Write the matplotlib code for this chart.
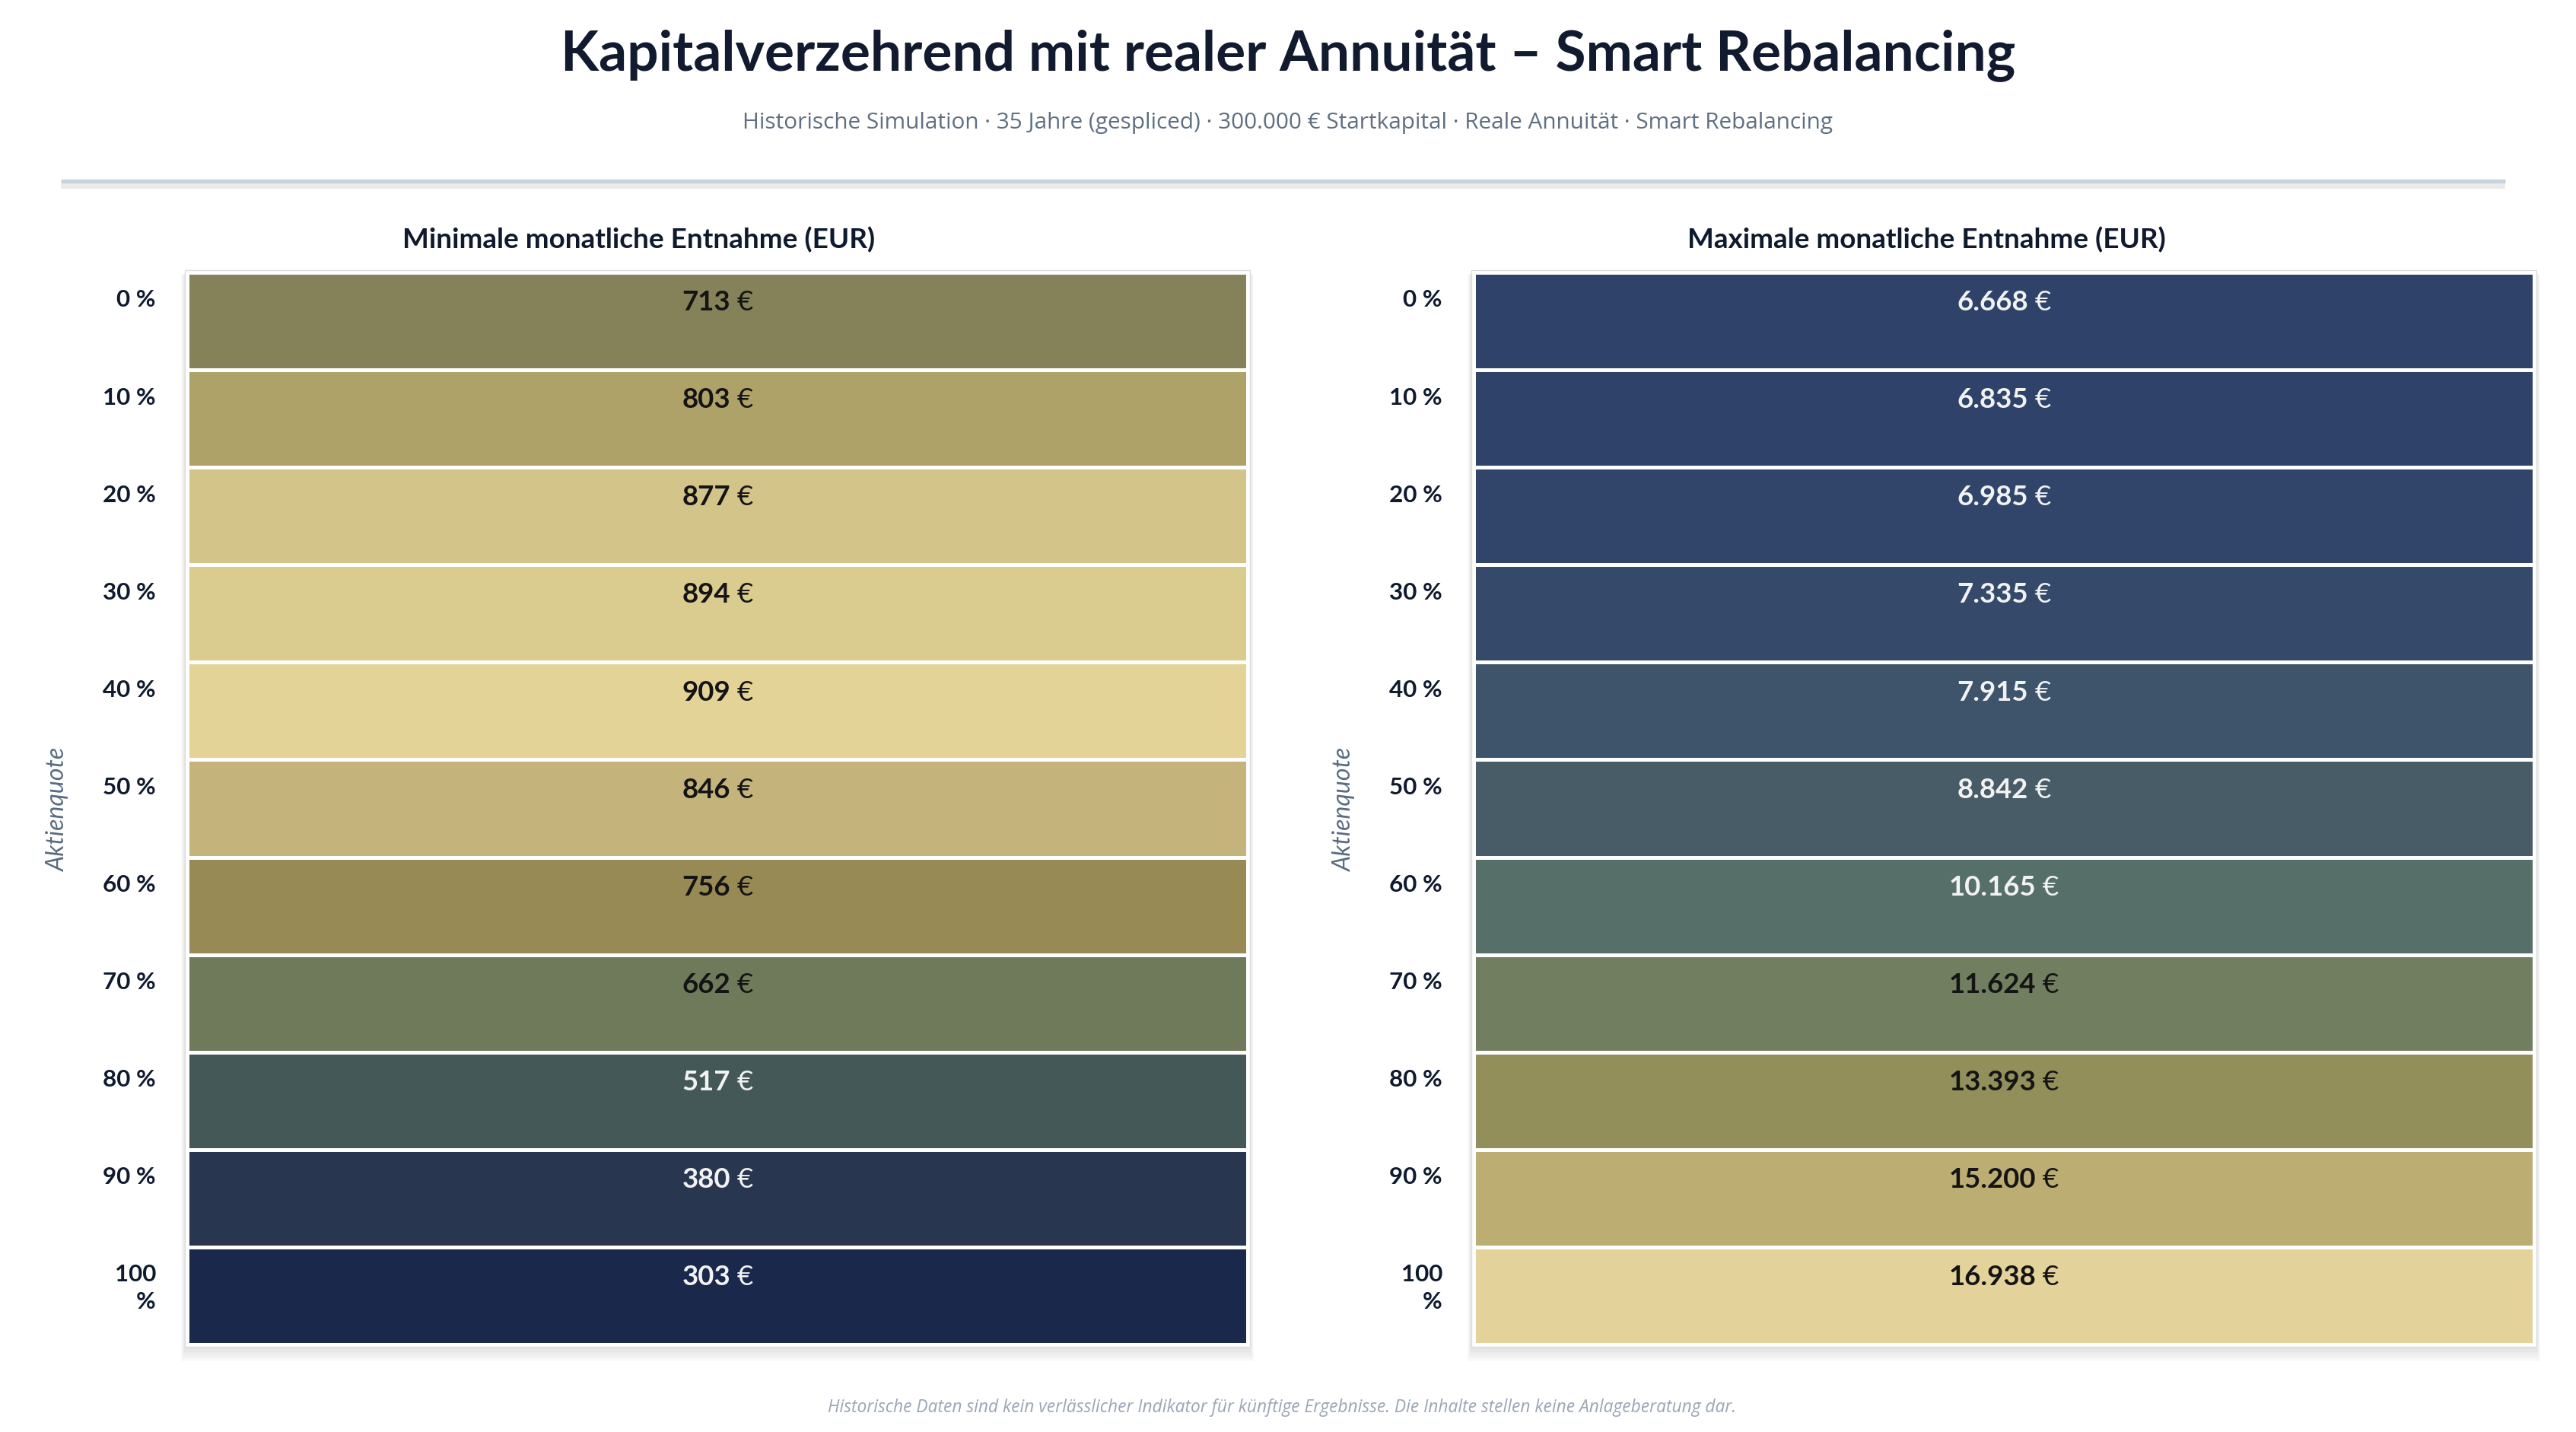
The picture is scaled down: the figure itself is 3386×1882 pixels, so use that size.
import numpy as np
import matplotlib
matplotlib.use("Agg")
import matplotlib.pyplot as plt
import matplotlib.patheffects as pe
import matplotlib.transforms as mtransforms
from matplotlib.colors import LinearSegmentedColormap, Normalize
from matplotlib.offsetbox import TextArea, HPacker, AnnotationBbox
from matplotlib.patches import Rectangle

plt.rcParams["font.family"] = ["Lato", "DejaVu Sans"]

# Daten
quoten = ["0 %", "10 %", "20 %", "30 %", "40 %", "50 %", "60 %", "70 %", "80 %", "90 %", "100\n%"]
min_entnahme = [713, 803, 877, 894, 909, 846, 756, 662, 517, 380, 303]
max_entnahme = [6668, 6835, 6985, 7335, 7915, 8842, 10165, 11624, 13393, 15200, 16938]

# Farben je Zeile
min_farben = ["#858259", "#aea167", "#d3c589", "#dacb8e", "#e3d397", "#c3b37b",
              "#978a54", "#6e7a59", "#435857", "#28374f", "#1a294b"]
max_farben = ["#2f426a", "#2f436a", "#31456b", "#35496b", "#3d546b", "#475c66",
              "#566f69", "#717f60", "#928f5a", "#bcad72", "#e3d299"]

W, H = 3386, 1882
fig = plt.figure(figsize=(W / 200, H / 200), dpi=200)
fig.patch.set_facecolor("white")


def px(x, y):
    return x / W, 1 - y / H


def make_cmap(values, colors):
    vmin, vmax = min(values), max(values)
    pairs = sorted(((v - vmin) / (vmax - vmin), c) for v, c in zip(values, colors))
    return LinearSegmentedColormap.from_list("c", pairs), Normalize(vmin, vmax)


def panel(left_px, values, colors, title, title_x):
    x0, y1 = px(left_px, 358)
    x1, y0 = px(left_px + 1394, 1767)
    # Schatten
    for i in range(7):
        d = (i + 1) * 2.0
        fig.patches.append(Rectangle(((left_px - d * 0.6) / W, 1 - (1767 + d * 1.6) / H),
                                     (1394 + d * 1.2) / W, (1409 + d * 1.4) / H,
                                     transform=fig.transFigure, facecolor="black",
                                     alpha=0.018, edgecolor="none", zorder=0))
    fig.patches.append(Rectangle(((left_px - 3) / W, 1 - 1770 / H), 1400 / W, 1415 / H,
                                 transform=fig.transFigure, facecolor="white",
                                 edgecolor="#dddddd", linewidth=0.5, zorder=0.5))
    ax = fig.add_axes([x0, y0, x1 - x0, y1 - y0])
    ax.set_zorder(2)
    ax.patch.set_alpha(0)
    cmap, norm = make_cmap(values, colors)
    arr = np.array(values, dtype=float).reshape(-1, 1)
    ax.pcolormesh(np.arange(2), np.arange(len(values) + 1), arr, cmap=cmap, norm=norm,
                  edgecolors="white", linewidth=1.1)
    ax.set_xlim(0, 1)
    ax.set_ylim(len(values), 0)
    ax.set_xticks([])
    ax.set_yticks([])
    for s in ax.spines.values():
        s.set_visible(False)

    trans = mtransforms.blended_transform_factory(ax.transAxes, ax.transData)
    for i, v in enumerate(values):
        r, g, b = cmap(norm(v))[:3]
        lum = 0.299 * r + 0.587 * g + 0.114 * b
        tc = "#141414" if lum > 0.43 else "#f2f2f2"
        num = f"{v:,}".replace(",", ".")
        box = HPacker(children=[
            TextArea(num, textprops=dict(fontsize=13.2, fontweight="bold", color=tc)),
            TextArea("€", textprops=dict(fontsize=13.2, color=tc))],
            sep=3, pad=0, align="baseline")
        ab = AnnotationBbox(box, (0.5, i + 0.31), xycoords="data", frameon=False,
                            box_alignment=(0.5, 0.5), pad=0)
        ax.add_artist(ab)
        ax.text(-41 / 1394, i + 0.175, quoten[i], transform=trans,
                ha="right", va="top", fontsize=11.3, fontweight="bold", color="#0f1a2e",
                linespacing=1.35, clip_on=False)

    fig.text(*px(title_x, 315), title, ha="center", va="center", fontsize=13.3,
             fontweight="bold", color="#0f1a2e")
    fig.text(*px(left_px - 170, 1064), "Aktienquote", rotation=90, ha="center",
             va="center", fontsize=11.5, fontstyle="italic", color="#5a6b80")
    return ax


fig.text(*px(1693, 73), "Kapitalverzehrend mit realer Annuität – Smart Rebalancing",
         ha="center", va="center", fontsize=26.3, fontweight="bold", color="#111a2e")
fig.text(*px(1693, 162),
         "Historische Simulation · 35 Jahre (gespliced) · 300.000 € Startkapital · "
         "Reale Annuität · Smart Rebalancing",
         ha="center", va="center", fontsize=10.7, color="#5f6f82",
         family=["Open Sans", "DejaVu Sans"])

line = plt.Line2D([80 / W, 3293 / W], [1 - 237.5 / H] * 2, transform=fig.transFigure,
                  color="#c9d3df", linewidth=1.9, solid_capstyle="butt",
                  path_effects=[pe.SimpleLineShadow(offset=(0, -2.5), shadow_color="black",
                                                    alpha=0.08, linewidth=3.0), pe.Normal()])
fig.lines.append(line)

panel(246, min_entnahme, min_farben, "Minimale monatliche Entnahme (EUR)", 840)
panel(1937, max_entnahme, max_farben, "Maximale monatliche Entnahme (EUR)", 2532)

fig.text(*px(1685, 1850),
         "Historische Daten sind kein verlässlicher Indikator für künftige Ergebnisse. "
         "Die Inhalte stellen keine Anlageberatung dar.",
         ha="center", va="center", fontsize=8.2, fontstyle="italic", color="#9aa5b5",
         family=["Open Sans", "DejaVu Sans"])

fig.savefig("out.png", dpi=200, facecolor="white")
